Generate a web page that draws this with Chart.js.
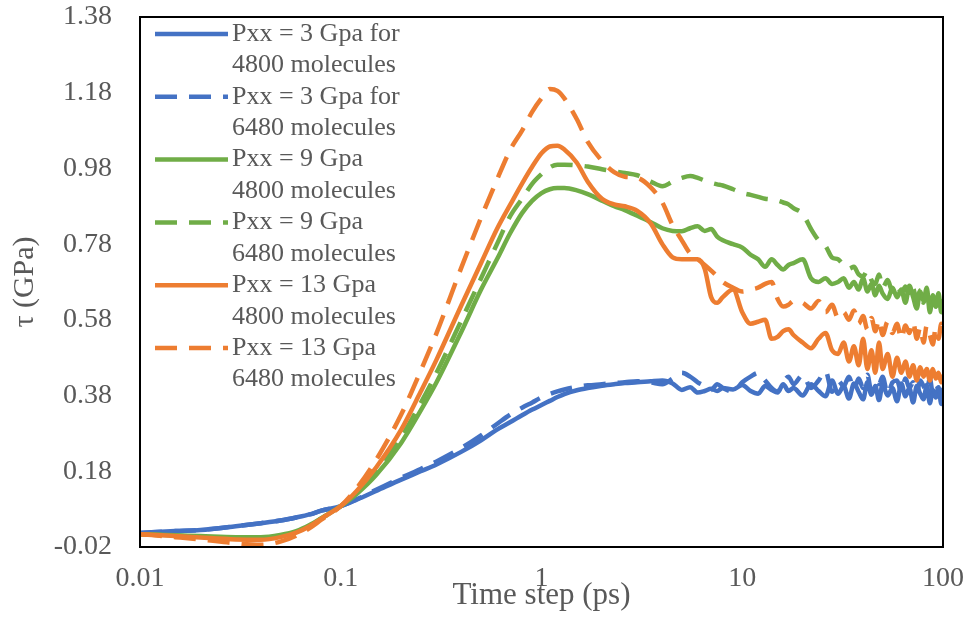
<!DOCTYPE html>
<html>
<head>
<meta charset="utf-8">
<script src="https://cdn.jsdelivr.net/npm/chart.js@4.4.0/dist/chart.umd.min.js"></script>
<style>
  html, body { margin: 0; padding: 0; background: #fff; }
</style>
</head>
<body>
<canvas id="shearChart" width="970" height="617"></canvas>
<script>
// time steps (ps), shared by all series
const timeSteps = [0.01,0.015,0.02,0.03,0.04,0.05,0.06,0.07,0.08,0.1,
  0.12,0.15,0.2,0.25,0.3,0.4,0.5,0.6,0.7,0.8,
  0.9,1,1.1,1.2,1.3,1.5,1.7,2,2.3,2.6,
  3,3.5,4,4.5,5,5.5,6,6.5,7,7.5,
  8,9,10,11,12,13,14,15,16,17,
  18,20,22,24,26,28,30,32,34,36,
  38,40,42,44,46,48,50,53,56,59,
  62,65,68,71,74,77,80,83,86,89,
  92,95,98,100];

const p3_4800 = [0.017,0.022,0.025,0.035,0.043,0.050,0.058,0.066,0.076,0.088,
  0.105,0.128,0.158,0.180,0.198,0.232,0.262,0.290,0.310,0.328,
  0.343,0.355,0.366,0.376,0.384,0.394,0.400,0.406,0.410,0.413,
  0.415,0.418,0.420,0.412,0.395,0.402,0.388,0.392,0.398,0.392,
  0.400,0.396,0.408,0.392,0.385,0.405,0.395,0.388,0.410,0.392,
  0.400,0.380,0.410,0.392,0.378,0.420,0.385,0.405,0.372,0.412,
  0.390,0.370,0.415,0.382,0.405,0.368,0.410,0.380,0.400,0.365,
  0.412,0.378,0.400,0.362,0.405,0.385,0.370,0.408,0.360,0.395,
  0.375,0.402,0.358,0.370];

const p3_6480 = [0.017,0.022,0.025,0.035,0.043,0.050,0.058,0.066,0.076,0.088,
  0.106,0.131,0.163,0.186,0.206,0.242,0.275,0.305,0.330,0.348,
  0.362,0.375,0.384,0.391,0.396,0.403,0.407,0.410,0.413,0.415,
  0.418,0.415,0.410,0.425,0.440,0.430,0.415,0.405,0.395,0.410,
  0.400,0.390,0.415,0.430,0.440,0.420,0.400,0.390,0.415,0.430,
  0.410,0.435,0.400,0.420,0.445,0.390,0.420,0.405,0.430,0.395,
  0.425,0.400,0.435,0.390,0.420,0.410,0.430,0.385,0.415,0.420,
  0.390,0.425,0.400,0.415,0.385,0.420,0.405,0.390,0.425,0.385,
  0.410,0.395,0.380,0.400];

const p9_4800 = [0.014,0.011,0.009,0.006,0.006,0.012,0.022,0.038,0.056,0.088,
  0.120,0.170,0.255,0.340,0.415,0.550,0.660,0.740,0.810,0.862,
  0.895,0.915,0.925,0.928,0.928,0.922,0.912,0.895,0.880,0.870,
  0.855,0.838,0.822,0.815,0.814,0.822,0.827,0.815,0.820,0.800,
  0.790,0.780,0.771,0.752,0.740,0.720,0.740,0.725,0.713,0.725,
  0.730,0.740,0.690,0.680,0.690,0.675,0.680,0.690,0.665,0.680,
  0.660,0.690,0.655,0.675,0.645,0.670,0.650,0.635,0.665,0.640,
  0.660,0.625,0.670,0.640,0.610,0.655,0.630,0.665,0.600,0.645,
  0.615,0.650,0.600,0.635];

const p9_6480 = [0.014,0.010,0.007,0.003,0.002,0.009,0.020,0.036,0.055,0.088,
  0.123,0.180,0.270,0.360,0.440,0.580,0.690,0.780,0.855,0.900,
  0.940,0.965,0.983,0.990,0.990,0.988,0.985,0.978,0.972,0.968,
  0.962,0.945,0.933,0.945,0.955,0.960,0.955,0.948,0.942,0.938,
  0.935,0.925,0.915,0.910,0.905,0.900,0.898,0.895,0.890,0.885,
  0.875,0.860,0.820,0.790,0.775,0.745,0.740,0.725,0.715,0.720,
  0.700,0.695,0.710,0.685,0.675,0.700,0.665,0.685,0.655,0.675,
  0.650,0.668,0.640,0.662,0.632,0.658,0.625,0.650,0.620,0.640,
  0.615,0.635,0.600,0.625];

const p13_4800 = [0.014,0.009,0.005,0.000,-0.001,0.006,0.018,0.035,0.055,0.088,
  0.128,0.190,0.290,0.390,0.475,0.620,0.730,0.820,0.885,0.940,
  0.985,1.020,1.038,1.040,1.030,0.995,0.945,0.900,0.885,0.880,
  0.868,0.835,0.780,0.745,0.740,0.740,0.740,0.715,0.640,0.625,
  0.640,0.660,0.600,0.570,0.575,0.580,0.530,0.535,0.550,0.555,
  0.540,0.520,0.505,0.530,0.545,0.500,0.490,0.520,0.470,0.510,
  0.460,0.530,0.450,0.500,0.440,0.520,0.450,0.490,0.430,0.480,
  0.440,0.470,0.430,0.460,0.420,0.455,0.430,0.450,0.420,0.450,
  0.425,0.440,0.415,0.435];

const p13_6480 = [0.014,0.006,0.000,-0.010,-0.014,-0.006,0.010,0.030,0.052,0.088,
  0.135,0.210,0.330,0.445,0.545,0.720,0.850,0.950,1.030,1.080,
  1.130,1.165,1.190,1.185,1.165,1.110,1.050,1.000,0.970,0.958,
  0.955,0.930,0.890,0.830,0.790,0.755,0.740,0.725,0.710,0.695,
  0.680,0.665,0.655,0.660,0.665,0.675,0.680,0.635,0.615,0.620,
  0.630,0.625,0.610,0.630,0.600,0.620,0.585,0.600,0.580,0.605,
  0.570,0.590,0.555,0.585,0.550,0.580,0.540,0.575,0.545,0.570,
  0.530,0.565,0.545,0.575,0.530,0.560,0.520,0.565,0.540,0.515,
  0.560,0.530,0.570,0.540];

const seriesLabels = [
  ["Pxx = 3 Gpa for", "4800 molecules"],
  ["Pxx = 3 Gpa for", "6480 molecules"],
  ["Pxx = 9 Gpa", "4800 molecules"],
  ["Pxx = 9 Gpa", "6480 molecules"],
  ["Pxx = 13 Gpa", "4800 molecules"],
  ["Pxx = 13 Gpa", "6480 molecules"]
];
const xTickValues = [0.01, 0.1, 1, 10, 100];
const yTickValues = [-0.02, 0.18, 0.38, 0.58, 0.78, 0.98, 1.18, 1.38];

const BLUE = '#4472C4', GREEN = '#70AD47', ORANGE = '#ED7D31';
const DASH = [22, 12];
const textGrey = '#595959';
const serif = "'Liberation Serif', 'Times New Roman', serif";

function pts(values) {
  return timeSteps.map((t, i) => ({ x: t, y: values[i] }));
}

function line(label, values, color, dashed, order) {
  return {
    label: label,
    data: pts(values),
    borderColor: color,
    backgroundColor: color,
    borderWidth: 4.5,
    borderDash: dashed ? DASH : [],
    pointRadius: 0,
    fill: false,
    cubicInterpolationMode: 'monotone',
    order: order
  };
}

// legend drawn inside the plot, two lines per entry
const innerLegend = {
  id: 'innerLegend',
  afterDatasetsDraw(chart) {
    const ctx = chart.ctx;
    const area = chart.chartArea;
    ctx.save();
    ctx.font = '26px ' + serif;
    ctx.textBaseline = 'middle';
    ctx.fillStyle = textGrey;
    chart.data.datasets.forEach((ds, i) => {
      const y = area.top + 17 + i * 62.8;
      ctx.strokeStyle = ds.borderColor;
      ctx.lineWidth = 4.5;
      ctx.setLineDash(ds.borderDash);
      ctx.beginPath();
      ctx.moveTo(area.left + 15, y);
      ctx.lineTo(area.left + 88, y);
      ctx.stroke();
      ctx.setLineDash([]);
      ds.label.forEach((txt, k) => {
        ctx.fillText(txt, area.left + 92, y + k * 31.5);
      });
    });
    ctx.restore();
  }
};

const plotBorder = {
  id: 'plotBorder',
  afterDraw(chart) {
    const ctx = chart.ctx;
    const a = chart.chartArea;
    ctx.save();
    ctx.strokeStyle = '#000';
    ctx.lineWidth = 2;
    ctx.strokeRect(a.left, a.top, a.right - a.left, a.bottom - a.top);
    ctx.restore();
  }
};

const config = {
  type: 'line',
  data: {
    datasets: [
      line(seriesLabels[0], p3_4800, BLUE, false, 5),
      line(seriesLabels[1], p3_6480, BLUE, true, 4),
      line(seriesLabels[2], p9_4800, GREEN, false, 3),
      line(seriesLabels[3], p9_6480, GREEN, true, 2),
      line(seriesLabels[4], p13_4800, ORANGE, false, 1),
      line(seriesLabels[5], p13_6480, ORANGE, true, 0)
    ]
  },
  options: {
    responsive: false,
    animation: false,
    devicePixelRatio: 1,
    layout: { padding: { left: 0, right: 27, top: 17, bottom: 0 } },
    plugins: {
      legend: { display: false },
      tooltip: { enabled: false }
    },
    scales: {
      x: {
        type: 'logarithmic',
        min: 0.01,
        max: 100,
        grid: { display: false },
        border: { display: false },
        afterBuildTicks(scale) {
          scale.ticks = xTickValues.map(v => ({ value: v }));
        },
        afterFit(scale) {
          scale.height = 70;
          scale.paddingLeft = 0;
          scale.paddingRight = 0;
        },
        ticks: {
          autoSkip: false,
          maxRotation: 0,
          padding: 7,
          color: textGrey,
          font: { family: serif, size: 28 },
          callback: (v) => String(v)
        },
        title: {
          display: true,
          text: 'Time step (ps)',
          color: textGrey,
          font: { family: serif, size: 31 },
          padding: { top: 0, bottom: 3 }
        }
      },
      y: {
        type: 'linear',
        min: -0.02,
        max: 1.38,
        grid: { display: false },
        border: { display: false },
        afterBuildTicks(scale) {
          scale.ticks = yTickValues.map(v => ({ value: v }));
        },
        afterFit(scale) {
          scale.width = 140;
          scale.paddingTop = 0;
          scale.paddingBottom = 0;
        },
        ticks: {
          padding: 20,
          color: textGrey,
          font: { family: serif, size: 28 },
          callback: (v) => Number(v).toFixed(2)
        },
        title: {
          display: true,
          text: 'τ (GPa)',
          color: textGrey,
          font: { family: serif, size: 30 },
          padding: { top: 7, bottom: 0 }
        }
      }
    }
  },
  plugins: [innerLegend, plotBorder]
};

new Chart(document.getElementById('shearChart'), config);
</script>
</body>
</html>
